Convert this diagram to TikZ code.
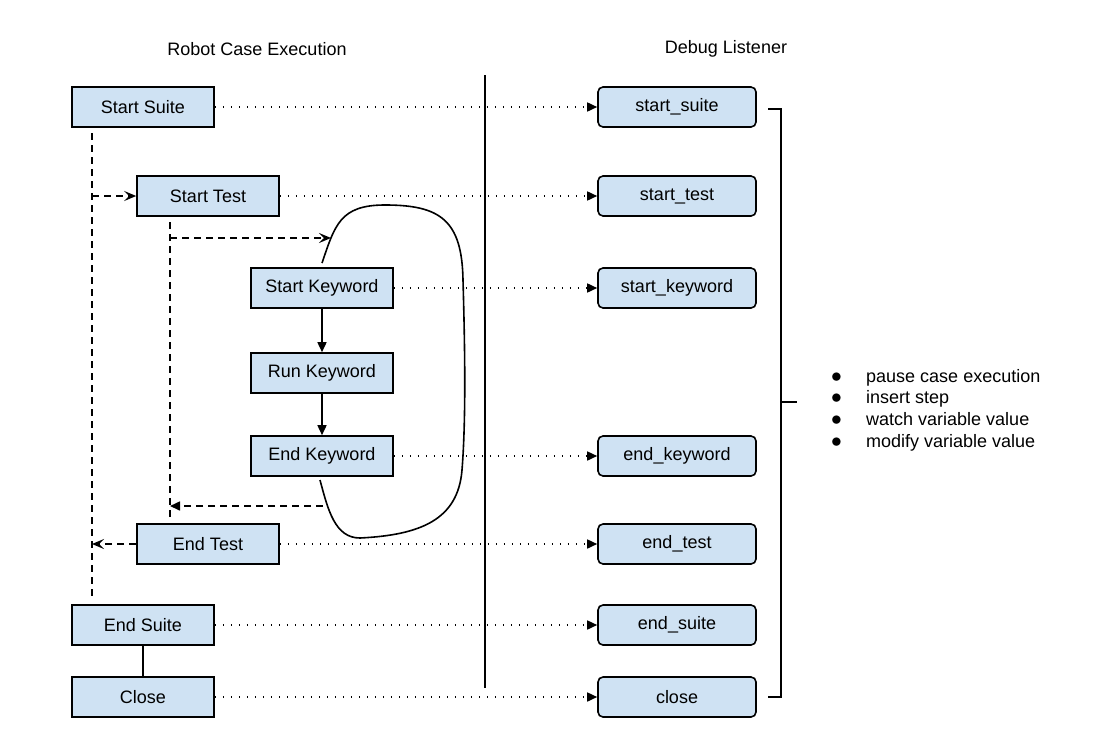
\documentclass[tikz,border=0pt]{standalone}
\usepackage{fontspec}
\setmainfont{Liberation Sans}
\usetikzlibrary{arrows.meta}
\definecolor{boxblue}{HTML}{CFE2F3}

\newcommand{\actionmark}{\makebox[35pt][l]{\scalebox{1.25}{$\bullet$}}}

\tikzset{
	casebox/.style={draw, line width=1.6pt, fill=boxblue, minimum width=142pt, minimum height=40pt, inner sep=0pt},
	hookbox/.style={casebox, minimum width=158pt, rounded corners=5pt},
	notify/.style={line width=1.6pt, dash pattern=on 1.6pt off 6.4pt, -{Triangle[length=10pt,width=9pt]}},
	flow/.style={line width=1.6pt, dash pattern=on 7pt off 5pt},
	enter/.style={-{Stealth[length=12pt,width=10pt,inset=5pt]}},
	leave/.style={-{Triangle[length=10pt,width=9pt]}},
	plain/.style={line width=1.6pt}
}

\begin{document}
\begin{tikzpicture}[x=1pt, y=-1pt, every node/.style={font=\fontsize{18}{21.7}\selectfont}]
			\useasboundingbox (0,0) rectangle (1115,728);

			% column titles
			\node (casetitle)	at (257,49)	{Robot Case Execution};
			\node (hooktitle)	at (726,49)	{Debug Listener};

			% robot case execution
			\node[casebox] (csuite)		at (143,107)	{Start Suite};
			\node[casebox] (ctest)		at (208,196)	{Start Test};
			\node[casebox] (ckwstart)	at (322,288)	{Start Keyword};
			\node[casebox] (ckwrun)		at (322,373)	{Run Keyword};
			\node[casebox] (ckwend)		at (322,456)	{End Keyword};
			\node[casebox] (ctestend)	at (208,544)	{End Test};
			\node[casebox] (csuiteend)	at (143,625)	{End Suite};
			\node[casebox] (cclose)		at (143,697)	{Close};

			% debug listener
			\node[hookbox] (hsuite)		at (677,107)	{start\_suite};
			\node[hookbox] (htest)		at (677,196)	{start\_test};
			\node[hookbox] (hkwstart)	at (677,288)	{start\_keyword};
			\node[hookbox] (hkwend)		at (677,456)	{end\_keyword};
			\node[hookbox] (htestend)	at (677,544)	{end\_test};
			\node[hookbox] (hsuiteend)	at (677,625)	{end\_suite};
			\node[hookbox] (hclose)		at (677,697)	{close};

			% separator
			\draw[plain]	(485,75) -- (485,688);

			% listener calls
			\draw[notify]	(csuite.east) -- (hsuite.west);
			\draw[notify]	(ctest.east) -- (htest.west);
			\draw[notify]	(ckwstart.east) -- (hkwstart.west);
			\draw[notify]	(ckwend.east) -- (hkwend.west);
			\draw[notify]	(ctestend.east) -- (htestend.west);
			\draw[notify]	(csuiteend.east) -- (hsuiteend.west);
			\draw[notify]	(cclose.east) -- (hclose.west);

			% keyword steps
			\draw[plain, leave]	(ckwstart.south) -- (ckwrun.north);
			\draw[plain, leave]	(ckwrun.south) -- (ckwend.north);
			\draw[plain]		(csuiteend.south) -- (cclose.north);

			% keyword loop
			\draw[plain]	(322,263) .. controls (335,225) and (340,205) .. (385,205)
							.. controls (440,205) and (462,220) .. (463,280)
							.. controls (465,350) and (466,420) .. (462,470)
							.. controls (458,520) and (420,535) .. (360,538)
							.. controls (335,538) and (328,510) .. (320,480);

			% suite and test scope
			\coordinate (suitetop)	at (92,133);
			\coordinate (suitebot)	at (92,600);
			\coordinate (testtop)	at (170,222);
			\coordinate (testbot)	at (170,520);
			\coordinate (loopin)	at (331,238);
			\coordinate (loopout)	at (323,506);

			\draw[flow]			(suitetop) -- (suitebot);
			\draw[flow]			(testtop) -- (testbot);
			\draw[flow, enter]	(suitetop |- ctest.west) -- (ctest.west);
			\draw[flow, enter]	(testtop |- loopin) -- (loopin);
			\draw[flow, leave]	(loopout) -- (testtop |- loopout);
			\draw[flow, enter]	(ctestend.west) -- (suitetop |- ctestend.west);

			% debugger actions
			\draw[plain]	(768,109) -- (781,109) -- (781,697) -- (768,697)
							(781,402) -- (797,402);
			\node[anchor=west, align=left, inner sep=0pt] (actions) at (831,410)
				{\actionmark pause case execution\\
				 \actionmark insert step\\
				 \actionmark watch variable value\\
				 \actionmark modify variable value};
		\end{tikzpicture}
\end{document}
